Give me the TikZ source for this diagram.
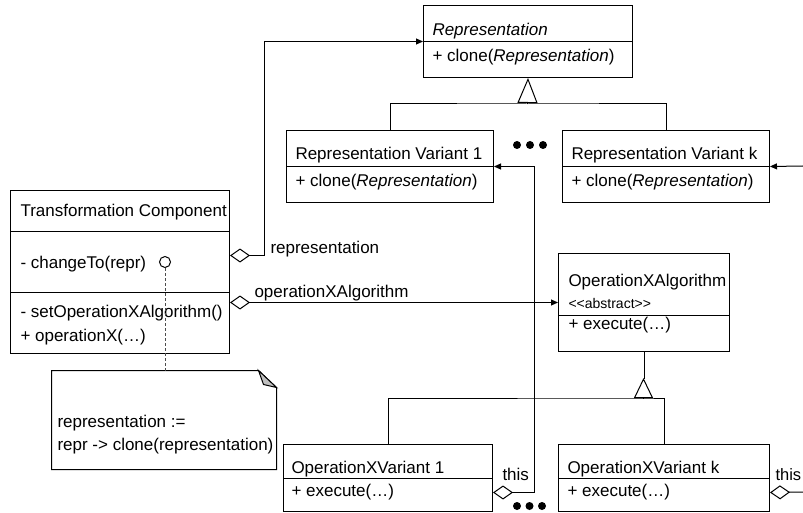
\documentclass[tikz,border=0pt]{standalone}
\usepackage{fontspec}
\setmainfont{Liberation Sans}
\usetikzlibrary{arrows.meta}

\tikzset{
  umlbox/.style={draw, anchor=north west, inner sep=0pt},
  txt/.style={anchor=base west, inner sep=0pt},
  stereo/.style={txt, font=\fontsize{14}{16}\selectfont},
  lolli/.style={draw, circle, minimum size=11pt, inner sep=0pt},
  notebox/.style={minimum width=224pt, minimum height=98pt, inner sep=0pt},
  notelink/.style={densely dashed, draw=black!70},
  agg/.style={{Diamond[open,length=20pt,width=14pt]}-{Triangle[length=7pt,width=6pt]}},
  aggend/.style={{Diamond[open,length=20pt,width=14pt]}-},
  nav/.style={-{Triangle[length=7pt,width=6pt]}},
  genbig/.style={-{Triangle[open,length=25pt,width=20pt]}},
  gensmall/.style={-{Triangle[open,length=20pt,width=19pt]}}
}

\begin{document}
\begin{tikzpicture}[x=1pt,y=-1pt,line width=1pt,font=\fontsize{17}{23}\selectfont]
  \useasboundingbox (0,0) rectangle (803,513);

  % class boxes
  \node[umlbox,minimum width=209pt,minimum height=72pt] (rep) at (423,5) {};
  \node[umlbox,minimum width=207pt,minimum height=72pt] (rv1) at (286,130) {};
  \node[umlbox,minimum width=207pt,minimum height=72pt] (rvk) at (562,130) {};
  \node[umlbox,minimum width=219pt,minimum height=163pt] (tc) at (10,190) {};
  \node[umlbox,minimum width=171pt,minimum height=98pt] (oxa) at (558,253) {};
  \node[umlbox,minimum width=209pt,minimum height=67pt] (oxv1) at (283,444) {};
  \node[umlbox,minimum width=211pt,minimum height=67pt] (oxvk) at (558,444) {};

  % compartments
  \draw (rep.west) -- (rep.east);
  \draw (rv1.west) -- (rv1.east);
  \draw (rvk.west) -- (rvk.east);
  \draw (oxv1.west) -- (oxv1.east);
  \draw (oxvk.west) -- (oxvk.east);
  \draw (tc.north west) ++(0,42) -- ++(219,0);
  \draw (tc.north west) ++(0,102) -- ++(219,0);
  \draw (oxa.north west) ++(0,62) -- ++(171,0);

  % texts
  \node[txt] (repname) at (432,36) {\itshape Representation};
  \node[txt] (repop) at (432,62) {+ clone(\textit{Representation})};
  \node[txt] (rv1name) at (295,160) {Representation Variant 1};
  \node[txt] (rv1op) at (295,187) {+ clone(\textit{Representation})};
  \node[txt] (rvkname) at (571,160) {Representation Variant k};
  \node[txt] (rvkop) at (571,187) {+ clone(\textit{Representation})};
  \node[txt] (tcname) at (20,217) {Transformation Component};
  \node[txt] (tcchg) at (20,269) {- changeTo(repr)};
  \node[txt] (tcset) at (20,317) {- setOperationXAlgorithm()};
  \node[txt] (tcopx) at (20,341) {+ operationX(…)};
  \node[txt] (oxaname) at (568,286) {OperationXAlgorithm};
  \node[stereo] (oxaster) at (568,308) {{<}{<}abstract{>}{>}};
  \node[txt] (oxaop) at (568,329) {+ execute(…)};
  \node[txt] (oxv1name) at (291,473) {OperationXVariant 1};
  \node[txt] (oxv1op) at (291,496) {+ execute(…)};
  \node[txt] (oxvkname) at (567,473) {OperationXVariant k};
  \node[txt] (oxvkop) at (567,496) {+ execute(…)};

  % note
  \node[lolli] (chgpt) at (165,262) {};
  \node[notebox] (note) at (164,420) {};
  \draw (note.north west) -- ([xshift=-18pt]note.north east) -- ([yshift=-17pt]note.north east)
    -- (note.south east) -- (note.south west) -- cycle;
  \filldraw[fill=black!25] ([xshift=-18pt]note.north east) -- ([xshift=-13pt,yshift=-14pt]note.north east)
    -- ([yshift=-17pt]note.north east) -- cycle;
  \node[txt] (notel1) at (57,427) {representation :=};
  \node[txt] (notel2) at (57,450) {repr -> clone(representation)};
  \draw[notelink] (chgpt) -- (chgpt |- note.north);

  % generalisation
  \coordinate (repbus) at (527.5,104);
  \draw (rv1.north) |- (repbus) -| (rvk.north);
  \draw[genbig] (repbus) -- (rep.south);
  \coordinate (opbus) at (643.5,398);
  \draw (oxv1.north) |- (opbus) -| (oxvk.north);
  \draw (oxa.south) -- ++(0,27);
  \draw[gensmall] (opbus) -- ++(0,-20);

  % associations
  \draw[agg] ([yshift=16.5pt]tc.east) -- ++(34,0) |- (rep.west);
  \node[txt] (replbl) at (270,253) {representation};
  \draw[agg] ([yshift=-30.5pt]tc.east) -- (oxa.west);
  \node[txt] (oxalbl) at (254,297) {operationXAlgorithm};
  \draw[agg] ([yshift=-14.5pt]oxv1.east) -- ++(41,0) |- (rv1.east);
  \node[txt] (this1) at (502,480) {this};
  \coordinate (oxvkend) at (803,492);
  \draw[aggend] ([yshift=-14.5pt]oxvk.east) -- (oxvkend);
  \node[txt,font=\fontsize{16.5}{20}\selectfont] (thisk) at (775,480) {this};
  \coordinate (rvksrc) at (803,166);
  \draw[nav] (rvksrc) -- (rvk.east);

  % ellipses
  \foreach \x in {517,530,543} \fill (\x,145) circle (4pt);
  \foreach \x in {517,529.5,542} \fill (\x,506) circle (4pt);
\end{tikzpicture}
\end{document}
